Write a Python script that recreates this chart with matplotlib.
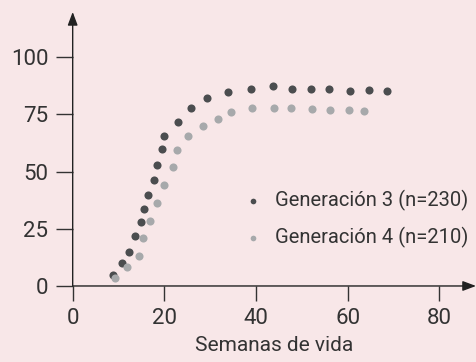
import matplotlib.pyplot as plt

# Semanas de vida vs % (lectura aproximada del gráfico)
sem_g3 = [8.8, 10.8, 12.3, 13.6, 14.8, 15.6, 16.5, 17.7, 18.4, 19.5, 20.0, 23.0,
          25.8, 29.3, 33.9, 38.9, 43.7, 47.9, 51.9, 56.0, 60.6, 64.6, 68.6]
val_g3 = [4.8, 9.9, 15.0, 22.0, 28.0, 33.8, 39.9, 46.2, 53.0, 59.8, 65.6, 71.8,
          78.0, 82.3, 84.8, 86.3, 87.5, 86.3, 86.3, 86.3, 85.4, 85.7, 85.4]
sem_g4 = [9.2, 11.8, 14.5, 15.3, 16.9, 18.4, 20.0, 21.8, 22.7, 25.2, 28.5, 31.6,
          34.5, 39.1, 44.0, 47.7, 52.2, 56.2, 60.2, 63.5]
val_g4 = [3.4, 8.2, 13.1, 20.9, 28.6, 36.4, 44.2, 52.0, 59.3, 65.6, 70.1, 73.0,
          76.1, 77.8, 77.8, 77.8, 77.5, 77.0, 77.0, 76.6]
labels = ['Generación 3 (n=230)', 'Generación 4 (n=210)']
xticks = [0, 20, 40, 60, 80]
yticks = [0, 25, 50, 75, 100]

bg = '#f8e7e8'
ink = '#333333'
plt.rcParams['font.family'] = ['Roboto', 'DejaVu Sans']

fig = plt.figure(figsize=(4.76, 3.62), dpi=100, facecolor=bg)
ax = fig.add_axes([0.1527, 0.21, 0.8473, 0.757], facecolor=bg)

ax.scatter(sem_g3, val_g3, s=34, color='#4b4d4f', lw=0, label=labels[0], zorder=3)
ax.scatter(sem_g4, val_g4, s=34, color='#a7a9ab', lw=0, label=labels[1], zorder=3)

ax.set_xlim(0, 88)
ax.set_ylim(0, 119.8)
ax.set_xticks(xticks)
ax.set_yticks(yticks)
for s in ['top', 'right', 'left', 'bottom']:
    ax.spines[s].set_visible(False)
ax.tick_params(axis='y', length=12.5, width=1, color='#333333', labelsize=16,
               labelcolor=ink, pad=5)
ax.tick_params(axis='x', length=11, width=1, color='#333333', labelsize=16,
               labelcolor=ink, pad=5)

# ejes con flecha
arrow = dict(arrowstyle='-|>,head_length=0.8,head_width=0.3', color='#222222',
             lw=1, shrinkA=0, shrinkB=0)
ax.annotate('', xy=(1, 0), xycoords='axes fraction', xytext=(0, 0), arrowprops=arrow)
ax.annotate('', xy=(0, 1), xycoords='axes fraction', xytext=(0, 0), arrowprops=arrow)

ax.set_xlabel('Semanas de vida', fontsize=15, color=ink, labelpad=5)

ax.legend(loc='center left', bbox_to_anchor=(0.422, 0.2456), frameon=False,
          fontsize=14.5, labelcolor=ink, markerscale=0.7, handletextpad=0.6,
          labelspacing=0.8, handlelength=1.0, borderpad=0, borderaxespad=0)

fig.savefig('out.png', dpi=100, facecolor=bg)
